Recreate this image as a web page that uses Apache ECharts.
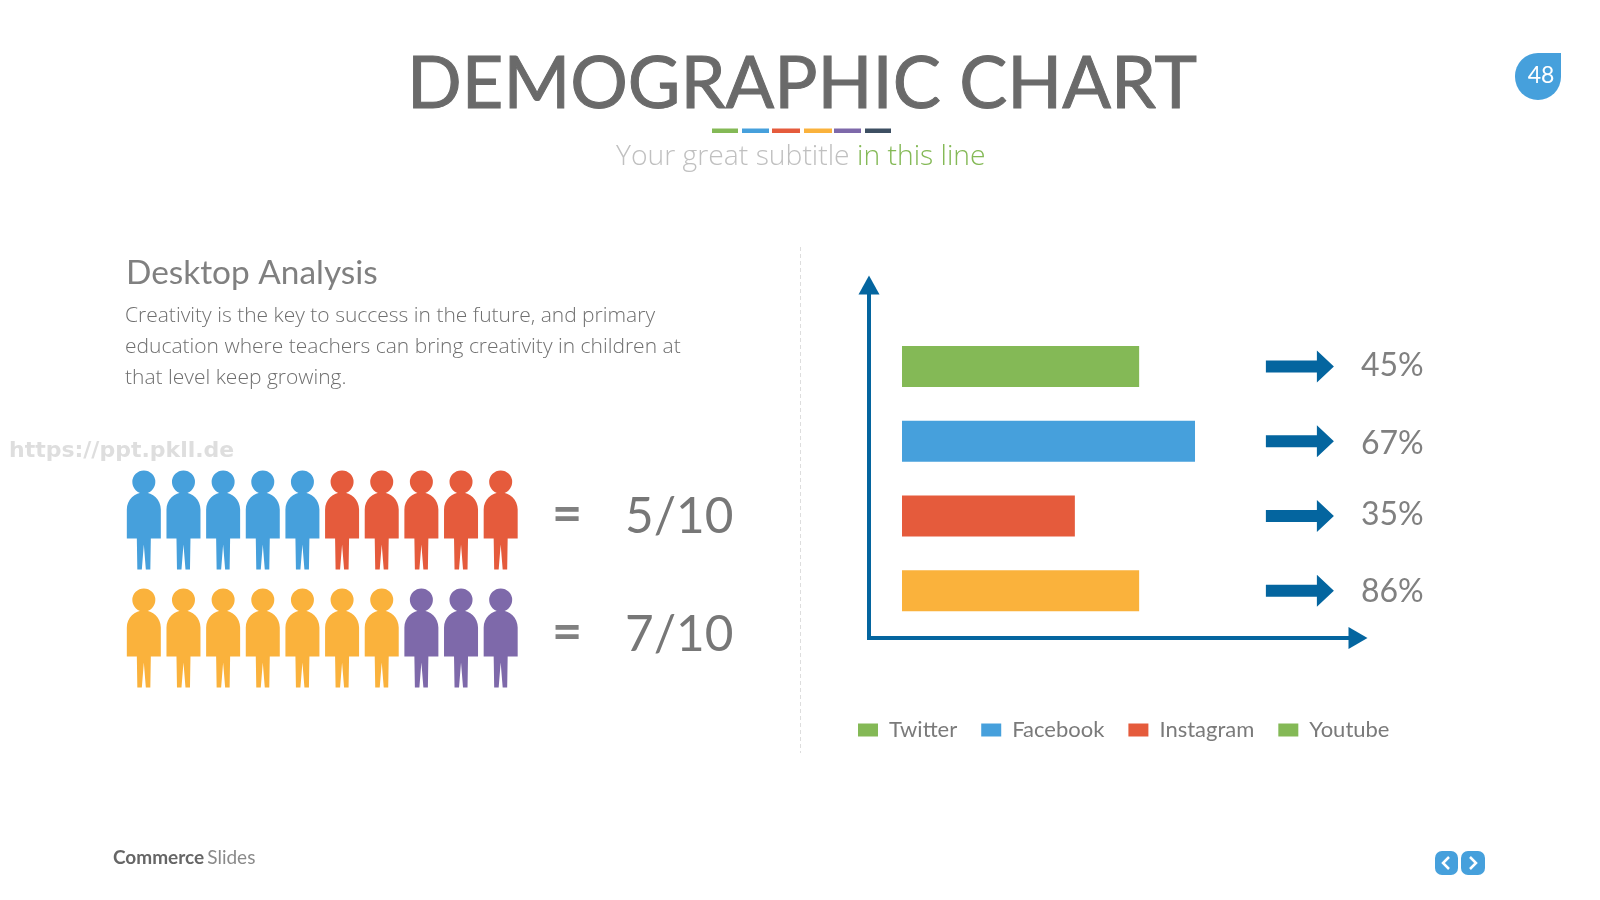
<!DOCTYPE html>
<html><head><meta charset="utf-8">
<style>html,body{margin:0;padding:0;background:#fff}#c{width:1600px;height:900px}</style>
<script src="https://cdn.jsdelivr.net/npm/echarts@6/dist/echarts.min.js"></script>
</head><body><div id="c"></div>
<script>
// ---- data ----
const categories = ['Twitter', 'Facebook', 'Instagram', 'Youtube'];
const barValues = [45, 55.6, 32.8, 45];           // drawn bar lengths
const percentLabels = ['45%', '67%', '35%', '86%'];
const barColors = ['#84b956', '#46a0dc', '#e55b3c', '#fab23c'];
const legendColors = ['#84b956', '#46a0dc', '#e55b3c', '#84b956'];
const arrowColumn = 75.5;

const peopleRows = ['5/10', '7/10'];
const peopleTotal = 10;
const peopleFirstCounts = [5, 7];
const peopleFirstColors = ['#46a0dc', '#fab23c'];
const peopleRestColors = ['#e55b3c', '#7e69aa'];
const dashColors = ['#84b956', '#46a0dc', '#e55b3c', '#fab23c', '#7e69aa', '#3d4f62'];
const bodyLines = [
  'Creativity is the key to success in the future, and primary',
  'education where teachers can bring creativity in children at',
  'that level keep growing.'
];

// ---- shapes ----
const PERSON = 'path://M17 0a11.5 11.5 0 1 1 0 23a11.5 11.5 0 1 1 0-23ZM0 68L0 39C0 29 8 22 17 22C26 22 34 29 34 39L34 68ZM10 68L24 68L23.5 99L19 99L17 74L15 99L10.5 99Z';
const ARROW = 'path://M0 10L51 10L51 0L68 16L51 32L51 22L0 22Z';
const AXIS_BLUE = '#04659f';
const FONT = 'Lato';
const labelNudge = [-1, 3, -1, 1];

// ---- series ----
const barSeries = categories.map((name, i) => ({
  name, type: 'bar', stack: 'bars', xAxisIndex: 0, yAxisIndex: 0, barWidth: 41,
  itemStyle: { color: barColors[i] },
  data: categories.map((_, j) => (j === i ? barValues[i] : null))
}));

const arrowSeries = {
  type: 'scatter', xAxisIndex: 0, yAxisIndex: 0, symbol: ARROW, symbolSize: [68, 32],
  itemStyle: { color: AXIS_BLUE, opacity: 1 },
  label: {
    show: true, position: 'right', distance: 27, fontFamily: FONT, fontSize: 32, color: '#808080',
    formatter: p => percentLabels[p.dataIndex]
  },
  data: categories.map((c, i) => ({ value: [arrowColumn, c], label: { offset: [0, labelNudge[i]] } }))
};

const peopleSeries = [];
peopleRows.forEach((row, r) => {
  const slots = Array.from({ length: peopleTotal }, (_, k) => k);
  [[slots.slice(0, peopleFirstCounts[r]), peopleFirstColors[r]],
   [slots.slice(peopleFirstCounts[r]), peopleRestColors[r]]].forEach(([idx, color]) => {
    peopleSeries.push({
      type: 'scatter', xAxisIndex: 2, yAxisIndex: 2, symbol: PERSON, symbolSize: [34, 99],
      itemStyle: { color, opacity: 1 },
      data: idx.map(k => [k, row])
    });
  });
});

// ---- decorations ----
const gText = (x, y, text, style) => ({
  type: 'text', x, y, silent: true,
  style: Object.assign({ text, fontFamily: FONT, verticalAlign: 'middle' }, style)
});
const dashX = [712, 742, 772, 804, 834, 865];
const dashW = [26, 27, 28, 28, 27, 26];
const graphic = [
  ...dashColors.map((c, i) => ({ type: 'rect', shape: { x: dashX[i], y: 128.5, width: dashW[i], height: 4.5 }, style: { fill: c } })),
  gText(616, 157, '', {
    rich: {
      a: { fontFamily: 'Open Sans', fontWeight: 300, fontSize: 28.3, fill: '#c0c0c0' },
      b: { fontFamily: 'Open Sans', fontWeight: 300, fontSize: 28.3, fill: '#84b956' }
    },
    text: '{a|Your great subtitle }{b|in this line}'
  }),
  gText(126, 273, 'Desktop Analysis', { fontSize: 33.4, fill: '#808080' }),
  ...bodyLines.map((t, i) => gText(125, 316 + i * 31, t, { fontFamily: 'Open Sans', fontWeight: 300, fontSize: 21, fill: '#6f6f6f' })),
  gText(9, 451, 'https://ppt.pkll.de', { fontFamily: 'DejaVu Sans', fontWeight: 'bold', fontSize: 22, fill: '#dedede' }),
  ...peopleRows.map((t, i) => gText(552, 514 + i * 118, '=', { fontSize: 52, fontWeight: 'bold', fill: '#808080' })),
  ...peopleRows.map((t, i) => gText(625, 517 + i * 118, t, { fontSize: 49.5, fill: '#777777' })),
  { type: 'line', shape: { x1: 800.5, y1: 247, x2: 800.5, y2: 753 }, style: { stroke: '#dddddd', lineWidth: 1, lineDash: [4, 3] } },
  { type: 'rect', shape: { x: 1515, y: 53, width: 46, height: 47, r: [23, 0, 23, 23] }, style: { fill: '#46a0dc' } },
  gText(1541, 76, '48', { fontSize: 23, fill: '#ffffff', align: 'center' }),
  gText(113, 858, '', {
    rich: {
      a: { fontFamily: FONT, fontWeight: 'bold', fontSize: 19, fill: '#666666' },
      b: { fontFamily: FONT, fontSize: 19, fill: '#8a8a8a' }
    },
    text: '{a|Commerce} {b|Slides}'
  }),
  { type: 'rect', shape: { x: 1435, y: 851, width: 23, height: 24, r: 7 }, style: { fill: '#46a0dc' } },
  { type: 'rect', shape: { x: 1461, y: 851, width: 24, height: 24, r: 7 }, style: { fill: '#46a0dc' } },
  { type: 'polyline', shape: { points: [[1449, 857], [1443, 863], [1449, 869]] }, style: { stroke: '#fff', lineWidth: 2.5, fill: 'none' } },
  { type: 'polyline', shape: { points: [[1470, 857], [1476, 863], [1470, 869]] }, style: { stroke: '#fff', lineWidth: 2.5, fill: 'none' } }
];

const axisLineStyle = { color: AXIS_BLUE, width: 4, cap: 'square' };
const hiddenAxis = { show: false };

const chart = echarts.init(document.getElementById('c'), null, { renderer: 'canvas' });
chart.setOption({
  animation: false,
  backgroundColor: '#ffffff',
  title: {
    text: 'DEMOGRAPHIC CHART', left: 797, top: 44, textAlign: 'center',
    textStyle: { fontFamily: FONT, fontWeight: 'normal', fontSize: 72, color: '#6a6a6a', textBorderColor: '#6a6a6a', textBorderWidth: 1 }
  },
  legend: {
    left: 853, top: 714, itemWidth: 20, itemHeight: 13, itemGap: 24, icon: 'rect',
    textStyle: { fontFamily: FONT, fontSize: 22, color: '#7a7a7a', padding: [0, 0, 0, 6] },
    selectedMode: false,
    data: categories.map((name, i) => ({ name, itemStyle: { color: legendColors[i] } }))
  },
  grid: [
    { left: 902, top: 329, width: 527, height: 299 },                 // bars
    { left: 869, top: 285, width: 489, height: 353 },                 // arrowed axes
    { left: 124, top: 461, width: 396.5, height: 236 }                // people
  ],
  xAxis: [
    { gridIndex: 0, type: 'value', min: 0, max: 100, ...hiddenAxis },
    { gridIndex: 1, type: 'value', min: 0, max: 1, axisTick: { show: false }, axisLabel: { show: false }, splitLine: { show: false },
      axisLine: { show: true, symbol: ['none', 'triangle'], symbolSize: [22, 19], lineStyle: axisLineStyle } },
    { gridIndex: 2, type: 'category', data: Array.from({ length: peopleTotal }, (_, k) => k), ...hiddenAxis }
  ],
  yAxis: [
    { gridIndex: 0, type: 'category', inverse: true, data: categories, ...hiddenAxis },
    { gridIndex: 1, type: 'value', min: 0, max: 1, axisTick: { show: false }, axisLabel: { show: false }, splitLine: { show: false },
      axisLine: { show: true, symbol: ['none', 'triangle'], symbolSize: [21, 19], lineStyle: axisLineStyle } },
    { gridIndex: 2, type: 'category', inverse: true, data: peopleRows, ...hiddenAxis }
  ],
  series: [...barSeries, arrowSeries, ...peopleSeries],
  graphic
});
</script></body></html>
